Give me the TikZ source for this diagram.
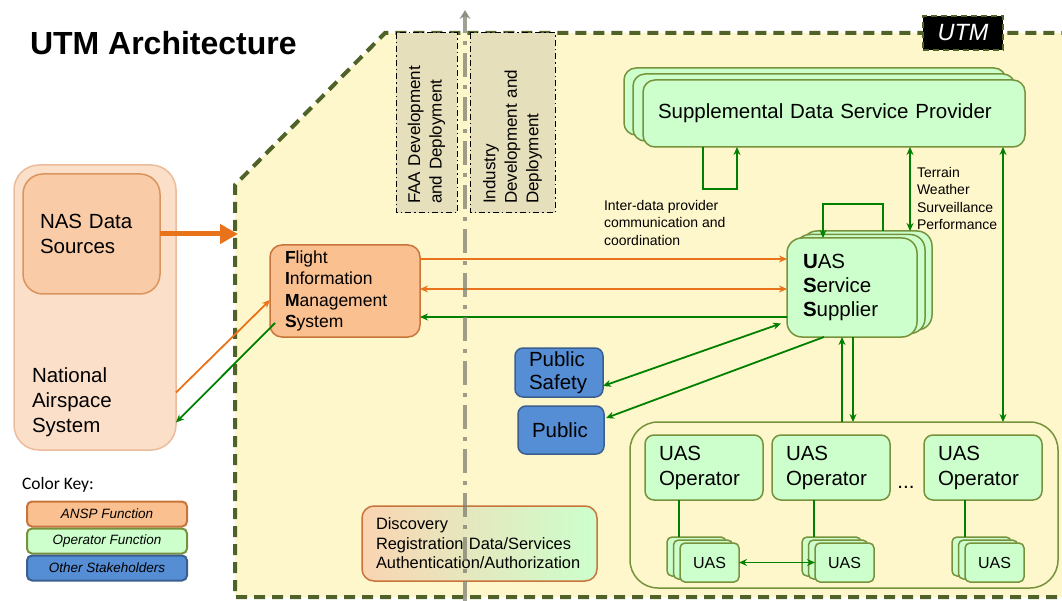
\documentclass[tikz,border=0pt]{standalone}
\usepackage{fontspec}
\setmainfont{Liberation Sans}
\newfontfamily\keyfont{Carlito}
\usetikzlibrary{positioning, arrows.meta}

\definecolor{utmyellow}{HTML}{FFF7CC}
\definecolor{utmborder}{HTML}{4F6228}
\definecolor{opfill}{HTML}{CCFFCC}
\definecolor{opdraw}{HTML}{76923C}
\definecolor{ansfill}{HTML}{FAC090}
\definecolor{ansdraw}{HTML}{C8743A}
\definecolor{nasfill}{HTML}{FCDFC8}
\definecolor{nasdraw}{HTML}{EBBB9C}
\definecolor{nasinfill}{HTML}{F9CBA6}
\definecolor{nasindraw}{HTML}{D99460}
\definecolor{othfill}{HTML}{558ED5}
\definecolor{othdraw}{HTML}{3A5F8F}
\definecolor{devfill}{HTML}{E6DFBC}
\definecolor{discleft}{HTML}{FAD4B2}
\definecolor{flowgreen}{HTML}{008000}
\definecolor{floworange}{HTML}{E8731A}
\definecolor{splitgray}{HTML}{808070}

\tikzset{
	every node/.append style={
		inner sep=0pt,
		outer sep=0pt,
	},
	bigtxt/.style={font=\fontsize{20.5}{25}\selectfont},
	smalltxt/.style={
		font=\fontsize{14}{17.6}\selectfont,
		align=left,
	},
	devtxt/.style={font=\fontsize{17}{21.5}\selectfont},
	opbox/.style={draw=opdraw, fill=opfill, line width=1.5pt},
	anspbox/.style={draw=ansdraw, fill=ansfill, line width=1.5pt},
	othbox/.style={draw=othdraw, fill=othfill, line width=1.5pt},
	devbox/.style={
		draw=black,
		fill=devfill,
		line width=1pt,
		dash pattern=on 6pt off 3pt on 1.5pt off 3pt,
		rotate=90,
		minimum width=180pt,
		text width=162pt,
		align=left,
		devtxt
	},
	stackbig/.style={opbox, rounded corners=12pt, minimum width=382pt, minimum height=67pt, anchor=north west},
	ussbox/.style={opbox, rounded corners=15pt, minimum width=130pt, minimum height=99pt, anchor=north west},
	opop/.style={
		opbox,
		rounded corners=9pt,
		minimum width=118pt,
		minimum height=65pt,
		text width=90pt,
		align=left,
		bigtxt
	},
	uasbox/.style={opbox, rounded corners=5pt, minimum width=59pt, minimum height=39pt, anchor=north west},
	keybox/.style={
		rounded corners=5pt,
		line width=2pt,
		minimum width=160pt,
		minimum height=25pt,
		font=\fontsize{13.5}{16}\selectfont\itshape
	},
	grn/.style={draw=flowgreen, line width=1.8pt, -{Stealth[length=8pt,width=7pt]}},
	grnboth/.style={grn, {Stealth[length=8pt,width=7pt]}-{Stealth[length=8pt,width=7pt]}},
	grnline/.style={draw=flowgreen, line width=1.8pt},
	org/.style={draw=floworange, line width=1.8pt, -{Stealth[length=8pt,width=7pt]}},
	orgboth/.style={org, {Stealth[length=8pt,width=7pt]}-{Stealth[length=8pt,width=7pt]}},
	split/.style={
		draw=splitgray,
		line width=4pt,
		opacity=0.75,
		dash pattern=on 24pt off 8pt on 4pt off 8pt,
		-{Stealth[length=9pt,width=11pt]}
	},
}

\begin{document}
\begin{tikzpicture}[x=1pt, y=-1pt]
\useasboundingbox (0,0) rectangle (1062,601);

% UTM area
\draw[draw=utmborder, fill=utmyellow, line width=4pt, dash pattern=on 11pt off 7pt]
	(1075,597) -- (235,597) -- (235,185) -- (385,33) -- (1075,33);

\node(title)[anchor=base west, font=\fontsize{32}{38}\selectfont\bfseries] at (30,55) {UTM Architecture};

\node(utmtag)[fill=black, draw=utmborder, line width=2.5pt, dash pattern=on 6pt off 4pt,
	minimum width=80pt, minimum height=34pt, text=white,
	font=\fontsize{23.5}{24}\selectfont\itshape] at (963,33) {UTM};

\node(faa)[devbox, minimum height=61pt] at (426.5,123) {FAA Development\\and Deployment};
\node(ind)[devbox, minimum height=85pt] at (512.5,123) {Industry\\Development and\\Deployment};

% national airspace
\node(nas)[fill=nasfill, draw=nasdraw, line width=1.5pt, rounded corners=25pt,
	minimum width=162pt, minimum height=285pt, anchor=north west] at (14,165) {};
\node(nasname)[bigtxt, align=left, anchor=north west] at (32,367.5) {National\\Airspace\\System};
\node(nasdata)[fill=nasinfill, draw=nasindraw, line width=1.5pt, rounded corners=20pt,
	minimum width=137pt, minimum height=120pt, anchor=north west,
	bigtxt, text width=103pt, align=left] at (23,174) {NAS Data\\Sources};

\coordinate(utmedge) at (238,234);
\draw[floworange, line width=5pt, -{Triangle[length=18pt,width=19pt]}] (nasdata.east) -- (utmedge);

\node(fims)[anspbox, rounded corners=12pt, minimum width=150pt, minimum height=92pt,
	anchor=north west, font=\fontsize{17.5}{21.5}\selectfont, text width=120pt, align=left]
	at (270,245) {\textbf{F}light\\\textbf{I}nformation\\\textbf{M}anagement\\\textbf{S}ystem};

\draw[org] ([yshift=-85pt]nas.east) -- ([yshift=-9pt]fims.west);
\draw[grn] ([xshift=5pt,yshift=-32pt]fims.west) -- ([yshift=-115pt]nas.east);

% supplemental data
\node(sdsp3)[stackbig] at (624,68) {};
\node(sdsp2)[stackbig] at (633,74) {};
\node(sdsp)[stackbig, bigtxt, text width=352pt, align=left] at (643,80) {Supplemental Data Service Provider};

% uss
\node(uss3)[ussbox] at (802,231) {};
\node(uss2)[ussbox] at (795,234.5) {};
\node(uss)[ussbox, font=\fontsize{20.5}{24}\selectfont, text width=98pt, align=left]
	at (787,238) {\textbf{U}AS\\\textbf{S}ervice\\\textbf{S}upplier};

\draw[grn] ([xshift=60pt]sdsp.south west) -- ++(0,42) -| ([xshift=94pt]sdsp.south west);
\node(interlbl)[smalltxt, anchor=north west] at (604,200)
	{Inter-data provider\\communication and\\coordination};

\coordinate(tw) at ([xshift=267pt]sdsp.south west);
\draw[grnboth] (tw) -- (tw |- uss3.north);
\node(twlbl)[smalltxt, anchor=north west] at (917,167)
	{Terrain\\Weather\\Surveillance\\Performance};

\draw[grn] ([xshift=81pt]uss3.north west) -- ++(0,-27) -| ([xshift=36pt]uss.north west);

% fims <-> uss
\coordinate(f1) at ([yshift=32pt]fims.east);
\coordinate(f2) at ([yshift=2pt]fims.east);
\coordinate(f3) at ([yshift=-26pt]fims.east);
\draw[org] (f1) -- (f1 -| uss.west);
\draw[orgboth] (f2) -- (f2 -| uss.west);
\draw[grn] (f3 -| uss.west) -- (f3);

% other stakeholders
\node(pubsafe)[othbox, rounded corners=8pt, minimum width=88pt, minimum height=49pt,
	anchor=north west, font=\fontsize{20.5}{22.5}\selectfont, text width=60pt, align=left]
	at (515,348) {Public\\Safety};
\node(pub)[othbox, rounded corners=8pt, minimum width=86pt, minimum height=48pt,
	anchor=north west, bigtxt, text width=58pt, align=left] at (518,406) {Public};

\draw[grnboth] ([xshift=-6pt,yshift=-36pt]uss.west) -- ([yshift=-13.5pt]pubsafe.east);
\draw[grn] ([xshift=-28pt]uss.south) -- ([xshift=2pt,yshift=12pt]pub.east);

% operators
\node(ops)[draw=opdraw, line width=1.5pt, rounded corners=28pt,
	minimum width=428pt, minimum height=166pt, anchor=north west] at (630,422) {};

\node(op1)[opop, anchor=north west] at (645,435) {UAS\\Operator};
\node(op2)[opop, right=9pt of op1] {UAS\\Operator};
\node(op3)[opop, right=34pt of op2] {UAS\\Operator};
\node(dots)[bigtxt, anchor=base] at (906,488) {...};

\coordinate(up) at ([xshift=-10pt]uss.south);
\coordinate(dn) at ([xshift=1pt]uss.south);
\coordinate(rt) at ([xshift=360pt]sdsp.south west);
\draw[grn] (up |- ops.north) -- (up);
\draw[grn] (dn) -- (dn |- ops.north);
\draw[grnboth] (rt) -- (rt |- ops.north);

\foreach \n/\x in {1/680, 2/815, 3/965}{
	\node(uasc\n)[uasbox] at (\x-13,537) {};
	\node(uasb\n)[uasbox] at (\x-6.5,540) {};
	\node(uas\n)[uasbox, font=\fontsize{16}{19}\selectfont] at (\x,543) {UAS};
}

\coordinate(l1) at ([xshift=34pt]op1.south west);
\coordinate(l2) at ([xshift=42pt]op2.south west);
\coordinate(l3) at ([xshift=41pt]op3.south west);
\draw[grnline] (l1) -- (l1 |- uasc1.north);
\draw[grnline] (l2) -- (l2 |- uasc2.north);
\draw[grnline] (l3) -- (l3 |- uasc3.north);
\draw[grnboth] (uas1.east) -- (uas2.west);

% discovery
\node(disc)[draw=ansdraw, line width=1.5pt, rounded corners=12pt, left color=discleft, right color=opfill,
	minimum width=235pt, minimum height=75pt, anchor=north west,
	font=\fontsize{16.4}{19.5}\selectfont, text width=207pt, align=left]
	at (362,506) {Discovery\\Registration Data/Services\\Authentication/Authorization};

% color key
\node(keylbl)[font=\keyfont\fontsize{17.5}{20}\selectfont, anchor=base west] at (22,489) {Color Key:};
\node(keyansp)[anspbox, keybox] at (107,514) {ANSP Function};
\node(keyop)[opbox, keybox, below=2pt of keyansp] {Operator Function};
\node(keyoth)[othbox, keybox, below=2pt of keyop] {Other Stakeholders};

% faa / industry split
\coordinate(splittop) at (465,10);
\coordinate(splitbot) at (465,605);
\draw[split] (splitbot) -- (splittop);

\end{tikzpicture}
\end{document}
